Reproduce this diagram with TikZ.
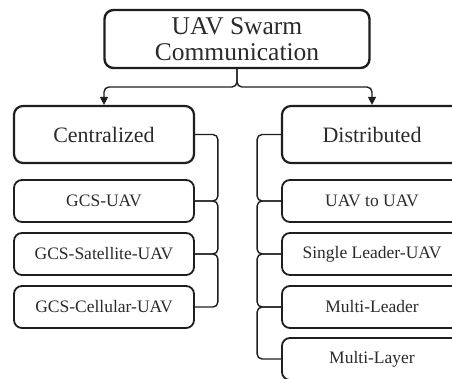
\documentclass[tikz,border=0pt]{standalone}
\usepackage{fontspec}
\setmainfont{Liberation Serif}
\usetikzlibrary{arrows.meta}
\definecolor{ink}{HTML}{1E1E1E}
\definecolor{txt}{HTML}{2A2A2A}
\tikzset{
  rootbox/.style={draw=ink, line width=2.4pt, rounded corners=9pt, minimum width=265pt, minimum height=58pt,
    align=center, text=txt, font=\fontsize{25.5}{25.5}\selectfont, inner sep=0pt},
  mainbox/.style={draw=ink, line width=2.2pt, rounded corners=9pt, minimum width=180pt, minimum height=57pt,
    text=txt, font=\fontsize{22}{24}\selectfont, inner sep=0pt},
  subbox/.style={draw=ink, line width=1.8pt, rounded corners=8pt, minimum width=180pt, minimum height=42pt,
    text=txt, font=\fontsize{17.5}{19}\selectfont, inner sep=0pt},
  link/.style={draw=ink, line width=1.4pt, rounded corners=5pt},
  arrowlink/.style={link, -{Triangle[length=8pt,width=8pt]}}
}
\begin{document}
\begin{tikzpicture}[x=1pt,y=-1pt]
\useasboundingbox (0,0) rectangle (452,379);
\begin{scope}
\clip (0,0) rectangle (452,379);
% root
\node[rootbox] (root) at (237,39) {UAV Swarm\\Communication};
% categories
\node[mainbox] (cent) at (104,134.5) {Centralized};
\node[mainbox] (dist) at (372,134.5) {Distributed};
% centralized items
\node[subbox] (c1) at (104,201) {GCS-UAV};
\node[subbox] (c2) at (104,254) {GCS-Satellite-UAV};
\node[subbox] (c3) at (104,307) {GCS-Cellular-UAV};
% distributed items
\node[subbox] (d1) at (372,201) {UAV to UAV};
\node[subbox] (d2) at (372,254) {Single Leader-UAV};
\node[subbox] (d3) at (372,307) {Multi-Leader};
\node[subbox] (d4) at (372,359) {Multi-Layer};
% root to categories
\coordinate (fork) at (237,87);
\draw[arrowlink] (root.south) -- (fork) -| (cent.north);
\draw[arrowlink] (root.south) -- (fork) -| (dist.north);
% centralized brackets
\draw[link] (cent.east) -| ([xshift=23pt]c1.east) -- (c1.east);
\draw[link] (c1.east) -| ([xshift=23pt]c2.east) -- (c2.east);
\draw[link] (c2.east) -| ([xshift=23pt]c3.east) -- (c3.east);
% distributed brackets
\draw[link] (dist.west) -| ([xshift=-24pt]d1.west) -- (d1.west);
\draw[link] (d1.west) -| ([xshift=-24pt]d2.west) -- (d2.west);
\draw[link] (d2.west) -| ([xshift=-24pt]d3.west) -- (d3.west);
\draw[link] (d3.west) -| ([xshift=-24pt]d4.west) -- (d4.west);
\end{scope}
\end{tikzpicture}
\end{document}
